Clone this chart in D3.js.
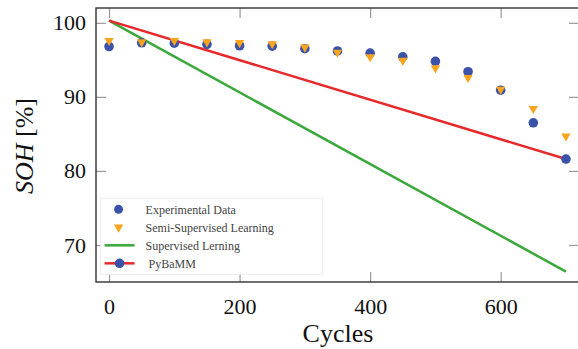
<!DOCTYPE html>
<html>
<head>
<meta charset="utf-8">
<script src="https://cdn.jsdelivr.net/npm/d3@7"></script>
<style>
  html, body { margin: 0; padding: 0; background: #fff; }
  svg { display: block; }
  svg text { font-family: "Liberation Serif", "Times New Roman", serif; }
</style>
</head>
<body>
<div id="chart"></div>
<script>
// Data
const cycles = [0, 50, 100, 150, 200, 250, 300, 350, 400, 450, 500, 550, 600, 650, 700];
const experimental = [96.8, 97.3, 97.25, 97.1, 96.9, 96.85, 96.5, 96.2, 95.9, 95.4, 94.8, 93.4, 90.9, 86.5, 81.6];
const semiSupervised = [97.6, 97.4, 97.6, 97.4, 97.3, 97.15, 96.7, 96.0, 95.4, 94.9, 93.9, 92.6, 91.0, 88.4, 84.7];
const supervisedCycles = [0, 700];
const supervised = [100.3, 66.4];
const pybammCycles = [0, 700];
const pybamm = [100.3, 81.6];
const xTicks = [0, 200, 400, 600];
const yTicks = [70, 80, 90, 100];
const legendLabels = ["Experimental Data", "Semi-Supervised Learning", "Supervised Lerning", "PyBaMM"];

const W = 578, H = 349;
const margin = { top: 8, right: -1, bottom: 67, left: 96 };
const width = W - margin.left - margin.right;
const height = H - margin.top - margin.bottom;

const colors = { blue: "#3a52a8", orange: "#f8a41c", red: "#e8292b", green: "#3aa83a" };
const serif = "Liberation Serif, Times New Roman, serif";

const svgRoot = d3.select("#chart").append("svg")
  .attr("width", W)
  .attr("height", H)
  .attr("font-family", serif);

const svg = svgRoot.append("g")
  .attr("transform", `translate(${margin.left},${margin.top})`);

const x = d3.scaleLinear().domain([-20, 720]).range([0, width]);
const y = d3.scaleLinear().domain([65, 102]).range([height, 0]);

// Inner ticks on all sides
const tickLen = 10;
function styleTicks(g) {
  g.attr("font-family", serif).attr("font-size", 22);
  g.select(".domain").remove();
  g.selectAll(".tick line").attr("stroke", "#999").attr("stroke-width", 1.2);
  g.selectAll(".tick text").attr("fill", "#111");
}

svg.append("g")
  .attr("transform", `translate(0,${height})`)
  .call(d3.axisBottom(x).tickValues(xTicks).tickSize(-tickLen).tickPadding(16))
  .call(styleTicks);

svg.append("g")
  .call(d3.axisTop(x).tickValues(xTicks).tickSize(-tickLen).tickFormat(""))
  .call(styleTicks);

svg.append("g")
  .call(d3.axisLeft(y).tickValues(yTicks).tickSize(-tickLen).tickPadding(10))
  .call(styleTicks);

svg.append("g")
  .attr("transform", `translate(${width},0)`)
  .call(d3.axisRight(y).tickValues(yTicks).tickSize(-tickLen).tickFormat(""))
  .call(styleTicks);

// Lines
const line = d3.line().x(d => x(d[0])).y(d => y(d[1]));

svg.append("path")
  .datum(supervisedCycles.map((c, i) => [c, supervised[i]]))
  .attr("d", line)
  .attr("fill", "none")
  .attr("stroke", colors.green)
  .attr("stroke-width", 2.5);

svg.append("path")
  .datum(pybammCycles.map((c, i) => [c, pybamm[i]]))
  .attr("d", line)
  .attr("fill", "none")
  .attr("stroke", colors.red)
  .attr("stroke-width", 2.5);

// Experimental circles
svg.selectAll(".exp")
  .data(cycles.map((c, i) => [c, experimental[i]]))
  .enter()
  .append("circle")
  .attr("class", "exp")
  .attr("cx", d => x(d[0]))
  .attr("cy", d => y(d[1]))
  .attr("r", 4.8)
  .attr("fill", colors.blue);

// Semi-supervised triangles (pointing down)
const tri = d3.symbol().type(d3.symbolTriangle).size(38);
svg.selectAll(".semi")
  .data(cycles.map((c, i) => [c, semiSupervised[i]]))
  .enter()
  .append("path")
  .attr("class", "semi")
  .attr("d", tri)
  .attr("transform", d => `translate(${x(d[0])},${y(d[1])}) rotate(180)`)
  .attr("fill", colors.orange);

// Frame
svg.append("rect")
  .attr("width", width)
  .attr("height", height)
  .attr("fill", "none")
  .attr("stroke", "#222")
  .attr("stroke-width", 1.3);

// Legend
const legend = svg.append("g").attr("transform", `translate(${x(-13)},${y(76.3)})`);
legend.append("rect")
  .attr("width", 222)
  .attr("height", 76)
  .attr("fill", "#fff")
  .attr("fill-opacity", 0.85)
  .attr("stroke", "#ececec");

const rowY = [11, 29, 47, 65];
legendLabels.forEach((label, i) => {
  const row = legend.append("g").attr("transform", `translate(0,${rowY[i]})`);
  if (i === 0) {
    row.append("circle").attr("cx", 18).attr("cy", 0).attr("r", 4.5).attr("fill", colors.blue);
  } else if (i === 1) {
    row.append("path").attr("d", tri).attr("transform", "translate(18,0) rotate(180)").attr("fill", colors.orange);
  } else if (i === 2) {
    row.append("line").attr("x1", 4).attr("x2", 34).attr("stroke", colors.green).attr("stroke-width", 2.5);
  } else {
    row.append("line").attr("x1", 4).attr("x2", 34).attr("stroke", colors.red).attr("stroke-width", 2.5);
    row.append("circle").attr("cx", 19).attr("cy", 0).attr("r", 4.8).attr("fill", colors.blue);
  }
  row.append("text")
    .attr("x", i === 3 ? 48 : 45)
    .attr("y", 0)
    .attr("dy", "0.35em")
    .attr("font-size", 12)
    .attr("fill", "#444")
    .text(label);
});

// Axis titles
svgRoot.append("text")
  .attr("x", 338)
  .attr("y", 342)
  .attr("text-anchor", "middle")
  .attr("font-size", 26)
  .attr("fill", "#111")
  .text("Cycles");

const yTitle = svgRoot.append("text")
  .attr("transform", `translate(33,146) rotate(-90)`)
  .attr("text-anchor", "middle")
  .attr("font-size", 26)
  .attr("fill", "#111");
yTitle.append("tspan").attr("font-style", "italic").text("SOH");
yTitle.append("tspan").text(" [%]");
</script>
</body>
</html>
